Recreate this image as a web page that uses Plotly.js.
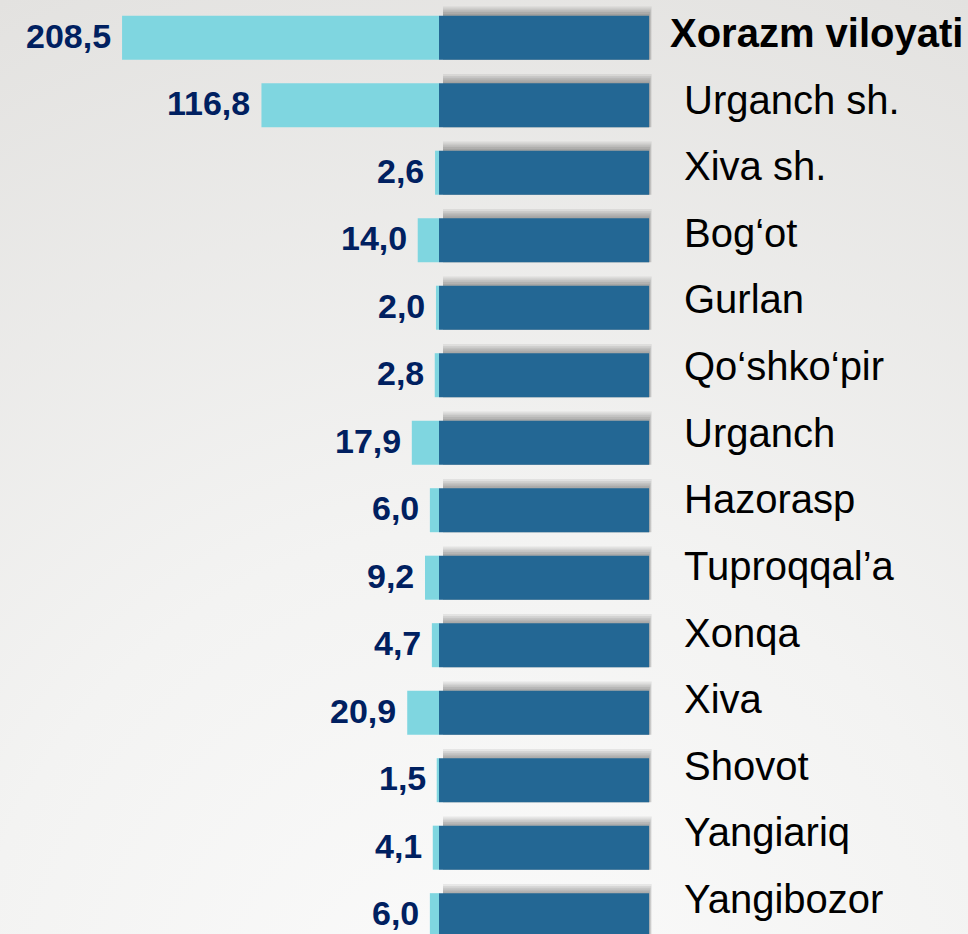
<!DOCTYPE html>
<html>
<head>
<meta charset="utf-8">
<script src="https://cdn.plot.ly/plotly-3.0.1.min.js"></script>
<style>
  html, body { margin: 0; padding: 0; width: 968px; height: 934px; overflow: hidden;
    background: radial-gradient(circle at 50% 112%, #fbfbfb 0%, #f3f3f2 45%, #e3e2e0 100%); }
  #chart { width: 968px; height: 934px; }
</style>
</head>
<body>
<div id="chart"></div>
<script>
// ---- data ----
const categories = ['Xorazm viloyati', 'Urganch sh.', 'Xiva sh.', 'Bog‘ot', 'Gurlan', 'Qo‘shko‘pir',
  'Urganch', 'Hazorasp', 'Tuproqqal’a', 'Xonqa', 'Xiva', 'Shovot', 'Yangiariq', 'Yangibozor'];
const values = [208.5, 116.8, 2.6, 14.0, 2.0, 2.8, 17.9, 6.0, 9.2, 4.7, 20.9, 1.5, 4.1, 6.0];
const baseBar = [138.2, 138.2, 138.2, 138.2, 138.2, 138.2, 138.2, 138.2, 138.2, 138.2, 138.2, 138.2, 138.2, 138.2];

// ---- styles ----
const W = 968, H = 934;
const barW = 0.652;
const cyan = '#7fd6e0';
const dark = '#236794';
const valueColor = '#002060';
const fontFam = 'Liberation Sans, Arial, sans-serif';

const traces = [];
// soft shadow layers behind the dark bars
const shadowInset = 2.6;
for (let k = 1; k <= 5; k++) {
  traces.push({
    type: 'bar', orientation: 'h', y: categories,
    x: baseBar.map(b => b - shadowInset + k * 0.35),
    base: shadowInset,
    width: barW + k * 0.027,
    offset: -barW / 2 - k * 0.027,
    marker: { color: 'rgba(0,0,0,0.065)', line: { width: 0 } },
    hoverinfo: 'skip'
  });
}
traces.push({
  type: 'bar', orientation: 'h', y: categories,
  x: values.map(v => -v),
  width: barW,
  marker: { color: cyan, line: { width: 0 } },
  hoverinfo: 'skip'
});
traces.push({
  type: 'bar', orientation: 'h', y: categories,
  x: baseBar,
  width: barW,
  marker: { color: dark, line: { width: 0 } },
  hoverinfo: 'skip'
});
// helper trace so the label axis exists
traces.push({
  type: 'scatter', mode: 'none', x: categories.map(() => 0), y: categories.map((c, i) => i),
  yaxis: 'y2', hoverinfo: 'skip', showlegend: false
});

const annotations = [];
values.forEach((v, i) => {
  annotations.push({
    x: -v, y: categories[i], xref: 'x', yref: 'y',
    xanchor: 'right', yanchor: 'middle', xshift: -9, yshift: 2,
    text: v.toFixed(1).replace('.', ','), showarrow: false,
    font: { family: fontFam, size: 34, color: valueColor, weight: 700 }
  });
});
categories.forEach((c, i) => {
  annotations.push({
    x: (i === 0 ? 668 : 682) / W, y: i, xref: 'paper', yref: 'y2',
    xanchor: 'left', yanchor: 'middle',
    text: c, showarrow: false,
    font: { family: fontFam, size: 40, color: '#000000', weight: i === 0 ? 700 : 400 }
  });
});

const layout = {
  width: W, height: H,
  margin: { l: 0, r: 0, t: 0, b: 0, pad: 0 },
  paper_bgcolor: 'rgba(0,0,0,0)', plot_bgcolor: 'rgba(0,0,0,0)',
  showlegend: false, barmode: 'overlay',
  xaxis: { range: [-288.8, 348.0], visible: false, fixedrange: true },
  yaxis: { type: 'category', categoryorder: 'array', categoryarray: categories,
           range: [13.279, -0.559], visible: false, fixedrange: true },
  yaxis2: { overlaying: 'y', type: 'linear', range: [13.526, -0.495], visible: false, fixedrange: true },
  annotations: annotations
};

Plotly.newPlot('chart', traces, layout, { staticPlot: true, displayModeBar: false });
</script>
</body>
</html>
